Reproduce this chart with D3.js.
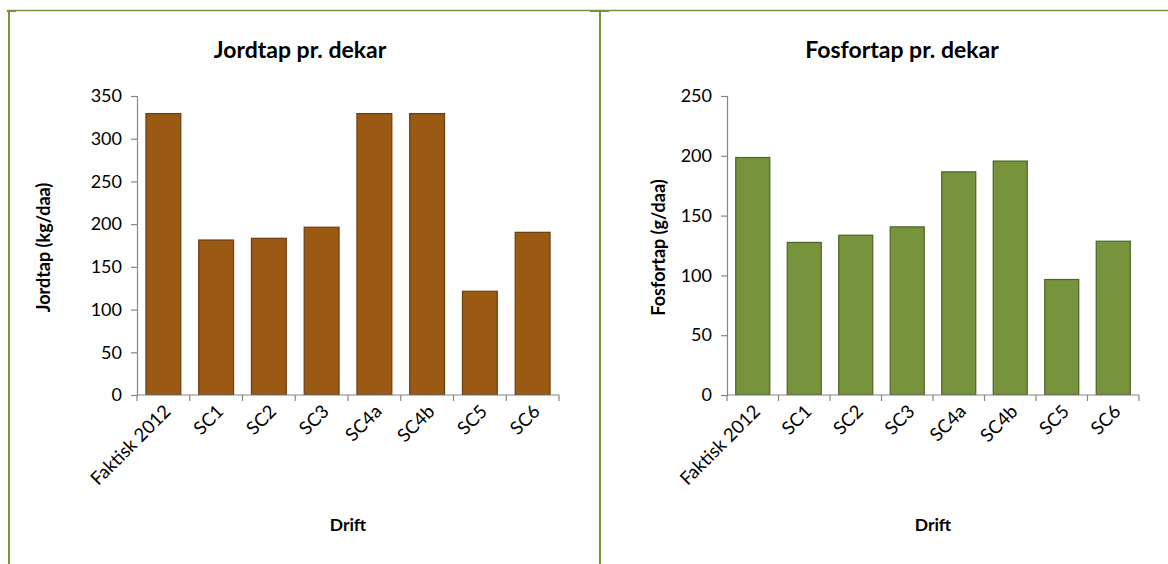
<!DOCTYPE html>
<html>
<head>
<meta charset="utf-8">
<script src="https://cdn.jsdelivr.net/npm/d3@7"></script>
<style>
  html, body { margin: 0; padding: 0; background: #fff; }
  svg { display: block; font-family: Lato, "Open Sans", sans-serif; }
</style>
</head>
<body>
<svg id="chart" width="1168" height="564"></svg>
<script>
// Scenario categories shared by both charts
const categories = ["Faktisk 2012", "SC1", "SC2", "SC3", "SC4a", "SC4b", "SC5", "SC6"];

// Soil loss per decare (kg/daa)
const jordtap = [330, 182, 184, 197, 330, 330, 122, 191];

// Phosphorus loss per decare (g/daa)
const fosfortap = [199, 128, 134, 141, 187, 196, 97, 129];

const jordTicks = [0, 50, 100, 150, 200, 250, 300, 350];
const fosforTicks = [0, 50, 100, 150, 200, 250];

const svg = d3.select("#chart");
const frameColor = "#77933C";
const axisColor = "#868686";

// Frame lines of the two chart boxes
const frame = svg.append("g").attr("fill", "none").attr("stroke", frameColor);
frame.append("line").attr("x1", 7).attr("x2", 1168).attr("y1", 10.5).attr("y2", 10.5).attr("stroke-width", 1.6);
frame.append("line").attr("x1", 9).attr("x2", 9).attr("y1", 10).attr("y2", 564).attr("stroke-width", 2);
frame.append("line").attr("x1", 600).attr("x2", 600).attr("y1", 10).attr("y2", 564).attr("stroke-width", 2);
frame.append("rect").attr("x", 7).attr("y", 10).attr("width", 9).attr("height", 2).attr("fill", frameColor).attr("stroke", "none");
frame.append("rect").attr("x", 590).attr("y", 10).attr("width", 19).attr("height", 2).attr("fill", frameColor).attr("stroke", "none");

function drawChart(opts) {
  const { left, right, top, bottom, values, maxY, ticks, fill, stroke, title, titleX, yTitle, yTitleX } = opts;
  const g = svg.append("g");

  const x = d3.scaleBand().domain(categories).range([left, right]).paddingInner(0.32).paddingOuter(0.16);
  const y = d3.scaleLinear().domain([0, maxY]).range([bottom, top]);

  // Title
  g.append("text")
    .attr("x", titleX).attr("y", 58)
    .attr("text-anchor", "middle")
    .attr("font-size", 23).attr("font-weight", 700)
    .attr("fill", "#000")
    .text(title);

  // Bars
  g.append("g").selectAll("rect")
    .data(categories.map((c, i) => ({ c, v: values[i] })))
    .join("rect")
    .attr("x", d => x(d.c) + 0.5)
    .attr("y", d => y(d.v) + 0.5)
    .attr("width", x.bandwidth() - 1)
    .attr("height", d => y(0) - y(d.v) - 1)
    .attr("fill", fill)
    .attr("stroke", stroke)
    .attr("stroke-width", 1.2);

  // Y axis
  const yAxis = g.append("g")
    .attr("transform", `translate(${left},0)`)
    .call(d3.axisLeft(y).tickValues(ticks).tickSize(6).tickPadding(9).tickFormat(d3.format("d")));
  yAxis.select(".domain").attr("stroke", axisColor).attr("stroke-width", 1.2);
  yAxis.selectAll(".tick line").attr("stroke", axisColor).attr("stroke-width", 1.2);
  yAxis.selectAll(".tick text").attr("font-size", 18).attr("fill", "#000").attr("font-family", "Lato, sans-serif");

  // X axis: line with ticks on category boundaries
  const xAxis = g.append("g").attr("transform", `translate(0,${bottom})`);
  xAxis.append("line").attr("x1", left).attr("x2", right).attr("stroke", axisColor).attr("stroke-width", 1.2);
  const bounds = d3.range(categories.length + 1).map(i => x.range()[0] + i * x.step());
  xAxis.selectAll("line.b").data(bounds).join("line").attr("class", "b")
    .attr("x1", d => d).attr("x2", d => d).attr("y1", 0).attr("y2", 6)
    .attr("stroke", axisColor).attr("stroke-width", 1.2);
  xAxis.selectAll("text").data(categories).join("text")
    .attr("transform", d => `translate(${x(d) + x.bandwidth() / 2 + 4},${13}) rotate(-45)`)
    .attr("text-anchor", "end")
    .attr("dy", "0.35em")
    .attr("font-size", 18.5).attr("fill", "#000")
    .text(d => d);

  // Axis titles
  g.append("text")
    .attr("x", (left + right) / 2).attr("y", 531)
    .attr("text-anchor", "middle")
    .attr("font-size", 17.5).attr("font-weight", 700)
    .text("Drift");
  g.append("text")
    .attr("transform", `translate(${yTitleX},${(top + bottom) / 2 + 2}) rotate(-90)`)
    .attr("text-anchor", "middle")
    .attr("font-size", 18).attr("font-weight", 700)
    .text(yTitle);
}

drawChart({
  left: 137, right: 559, top: 96, bottom: 395,
  values: jordtap, maxY: 350, ticks: jordTicks,
  fill: "#9A5A14", stroke: "#6B3E0E",
  title: "Jordtap pr. dekar", titleX: 300,
  yTitle: "Jordtap (kg/daa)", yTitleX: 50
});

drawChart({
  left: 727, right: 1139, top: 96, bottom: 395,
  values: fosfortap, maxY: 250, ticks: fosforTicks,
  fill: "#77933C", stroke: "#4F6228",
  title: "Fosfortap pr. dekar", titleX: 902,
  yTitle: "Fosfortap (g/daa)", yTitleX: 665
});
</script>
</body>
</html>
